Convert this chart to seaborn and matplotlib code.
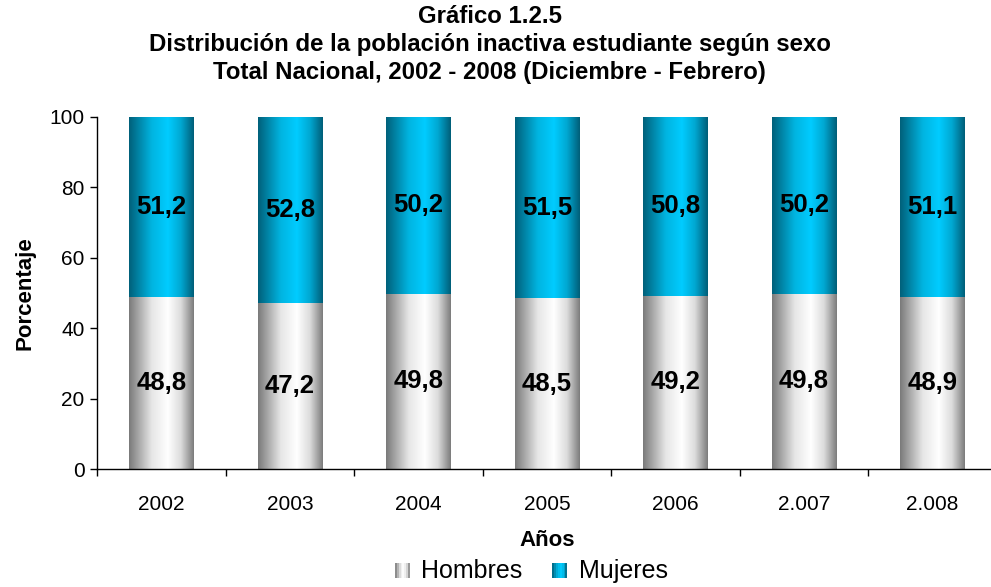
import numpy as np
import pandas as pd
import seaborn as sns
import matplotlib.pyplot as plt
from matplotlib.colors import LinearSegmentedColormap
from matplotlib.legend_handler import HandlerBase
from matplotlib.patches import Rectangle

sns.set_theme(style='white')
plt.rcParams['font.family'] = ['Liberation Sans', 'DejaVu Sans']
plt.rcParams['text.color'] = 'black'
plt.rcParams['axes.labelcolor'] = 'black'
plt.rcParams['xtick.color'] = 'black'
plt.rcParams['ytick.color'] = 'black'

years = ["2002", "2003", "2004", "2005", "2006", "2.007", "2.008"]
hombres = [48.8, 47.2, 49.8, 48.5, 49.2, 49.8, 48.9]
mujeres = [51.2, 52.8, 50.2, 51.5, 50.8, 50.2, 51.1]

df = pd.DataFrame({"anio": years, "Hombres": hombres, "Mujeres": mujeres})
df["total"] = df["Hombres"] + df["Mujeres"]

# cylinder-like shading across each bar
gray_cmap = LinearSegmentedColormap.from_list(
    "g", [(0, "#7a7a7a"), (0.35, "#e6e6e6"), (0.6, "#ffffff"), (0.8, "#dcdcdc"), (1, "#7c7c7c")])
cyan_cmap = LinearSegmentedColormap.from_list(
    "c", [(0, "#00607a"), (0.35, "#00b4e0"), (0.6, "#00ccff"), (0.8, "#00a8d2"), (1, "#005e78")])
grad = np.linspace(0, 1, 256).reshape(1, -1)

fig = plt.figure(figsize=(9.91, 5.87), dpi=100)
ax = fig.add_axes([0.0979, 0.201, 0.908, 0.5997])

sns.barplot(data=df, x="anio", y="total", color="#00b4e0", width=0.5, ax=ax)
sns.barplot(data=df, x="anio", y="Hombres", color="#d0d0d0", width=0.5, ax=ax)

n = len(years)
bars = ax.patches
for i in range(n):
    top = bars[i]
    low = bars[n + i]
    x0, w = low.get_x(), low.get_width()
    h = low.get_height()
    ax.imshow(grad, cmap=gray_cmap, aspect='auto', extent=(x0, x0 + w, 0, h), zorder=2)
    ax.imshow(grad, cmap=cyan_cmap, aspect='auto', extent=(x0, x0 + w, h, top.get_height()), zorder=2)
    ax.text(i, h / 2, f"{hombres[i]:.1f}".replace(".", ","), ha='center', va='center',
            fontsize=18.5, fontweight='bold', color='black', zorder=3)
    ax.text(i, h + mujeres[i] / 2, f"{mujeres[i]:.1f}".replace(".", ","), ha='center', va='center',
            fontsize=18.5, fontweight='bold', color='black', zorder=3)

ax.set_xlim(-0.5, n - 0.5)
ax.set_ylim(0, 100)
ax.set_yticks([0, 20, 40, 60, 80, 100])
ax.set_xticks(range(n))
ax.set_xticklabels(years)
ax.set_xticks(np.arange(-0.5, n, 1), minor=True)
ax.tick_params(axis='x', which='major', length=0, pad=19, labelsize=15)
ax.tick_params(axis='x', which='minor', length=5, width=1, direction='out', color='black', bottom=True)
ax.tick_params(axis='y', length=5, width=1, direction='out', color='black', left=True, labelsize=15, pad=4)
for s in ['top', 'right']:
    ax.spines[s].set_visible(False)
for s in ['left', 'bottom']:
    ax.spines[s].set_color('black')
    ax.spines[s].set_linewidth(1)

ax.set_xlabel("Años", fontsize=16, fontweight='bold', labelpad=11)
ax.set_ylabel("Porcentaje", fontsize=16, fontweight='bold', labelpad=10)

fig.text(0.494, 0.992, "Gráfico 1.2.5\nDistribución de la población inactiva estudiante según sexo\n"
         "Total Nacional, 2002 - 2008 (Diciembre - Febrero)",
         ha='center', va='top', fontsize=17.3, fontweight='bold', linespacing=1.3)


class GradientHandler(HandlerBase):
    def __init__(self, cmap):
        super().__init__()
        self.cmap = cmap

    def create_artists(self, legend, orig_handle, xdescent, ydescent, width, height, fontsize, trans):
        side = min(width, height * 0.85)
        x0 = -xdescent + (width - side)
        k = 8
        arts = []
        for j in range(k):
            arts.append(Rectangle((x0 + j * side / k, -ydescent), side / k, side,
                                  facecolor=self.cmap((j + 0.5) / k), edgecolor='none', transform=trans))
        return arts


h1 = Rectangle((0, 0), 1, 1)
h2 = Rectangle((0, 0), 1, 1)
fig.legend([h1, h2], ["Hombres", "Mujeres"], loc='center', bbox_to_anchor=(0.536, 0.027), ncol=2,
           frameon=False, fontsize=18, handlelength=0.6, handletextpad=0.45, columnspacing=1.2,
           borderpad=0.1, handler_map={h1: GradientHandler(gray_cmap), h2: GradientHandler(cyan_cmap)})

fig.savefig("out.png", dpi=100)
